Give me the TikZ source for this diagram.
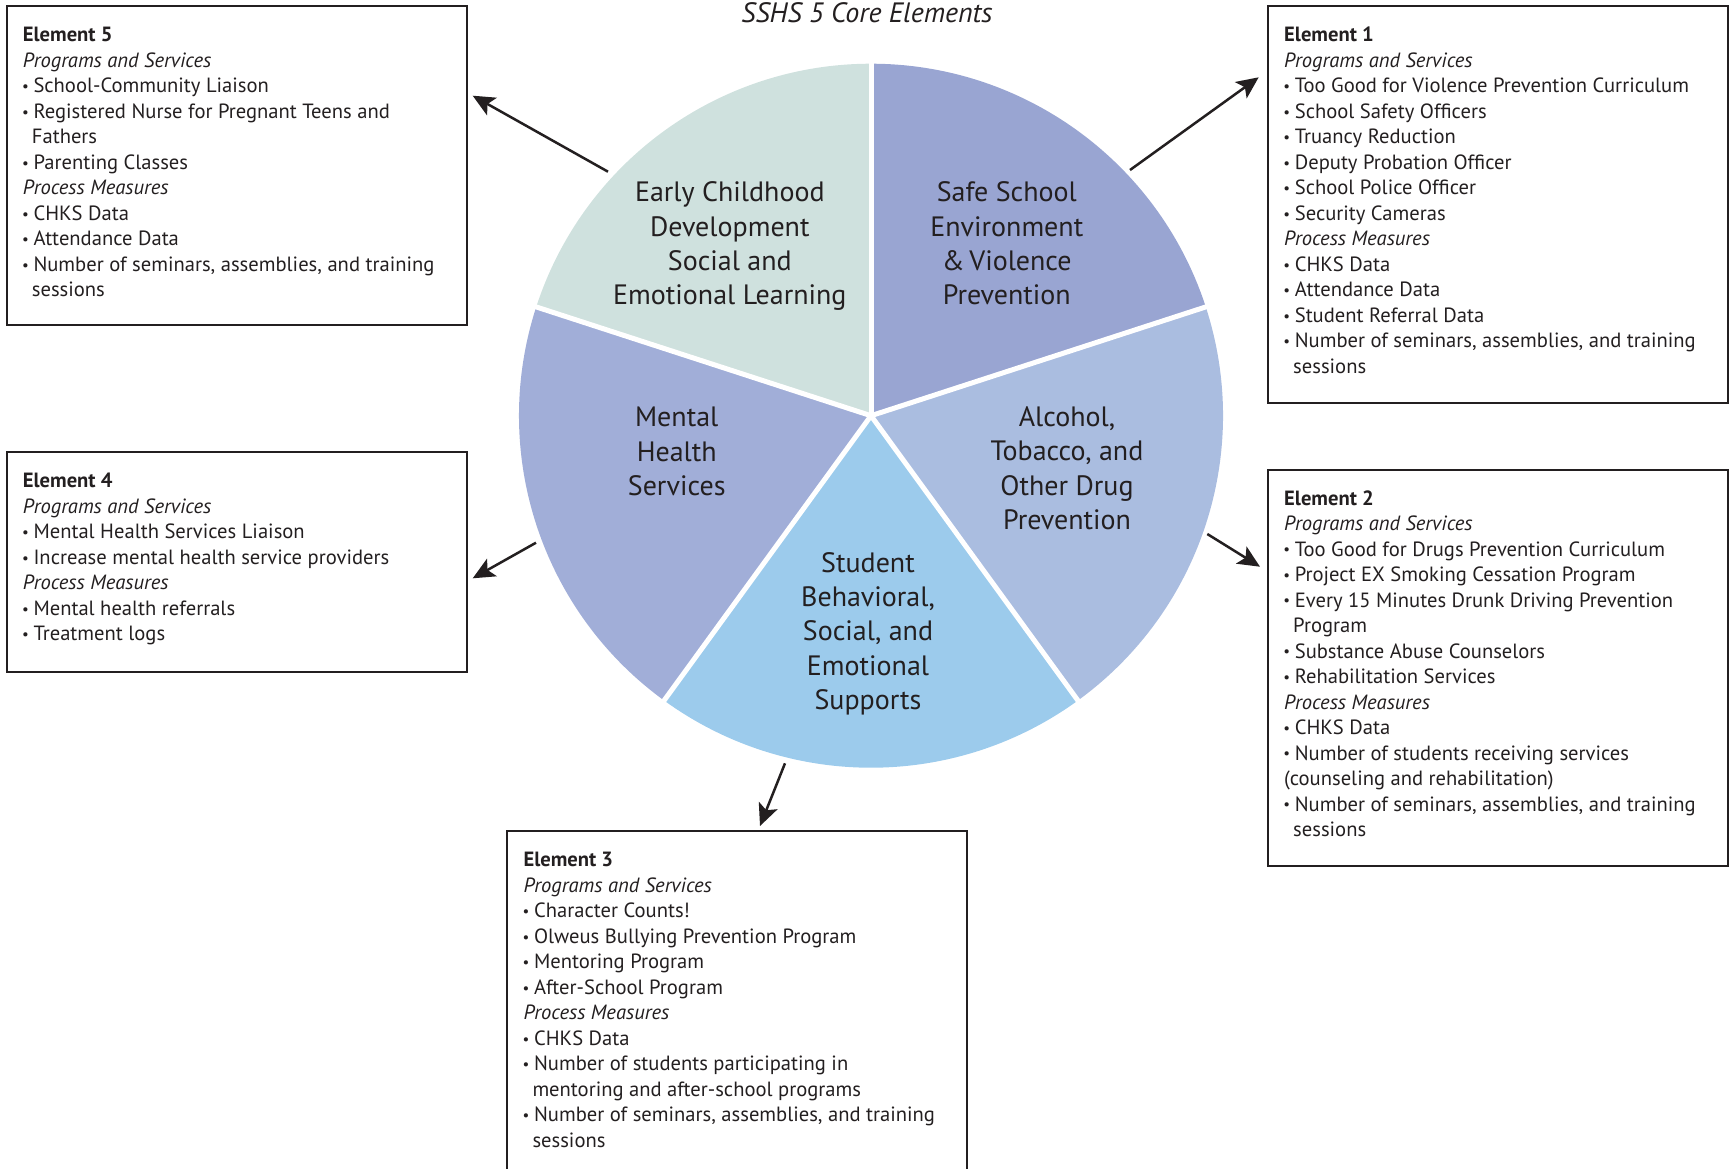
\documentclass[tikz,border=0pt]{standalone}
\usepackage{fontspec}
\setmainfont{PT Sans}
\usetikzlibrary{arrows.meta,calc}
\definecolor{ink}{HTML}{231F20}
\definecolor{cEarly}{HTML}{CFE1DE}
\definecolor{cSafe}{HTML}{99A5D2}
\definecolor{cAlc}{HTML}{AABDE0}
\definecolor{cStud}{HTML}{9CCBEC}
\definecolor{cMent}{HTML}{A1AED8}
\newcommand{\bl}{\makebox[10.6pt][l]{\kern-0.8pt\raisebox{1.2pt}{\fontsize{15}{15}\selectfont\textbullet}}}
\newcommand{\cont}{\hspace*{9pt}}
\begin{document}
\begin{tikzpicture}[x=1pt,y=-1pt,
  frame/.style={draw=ink,line width=2.4pt,anchor=north west,inner sep=0pt},
  boxtext/.style={anchor=base west,align=left,inner sep=0pt,text=ink,font=\fontsize{20.6}{25.5}\selectfont},
  pietext/.style={anchor=base,align=center,text=ink,inner sep=0pt,font=\fontsize{28}{34.3}\selectfont},
  link/.style={draw=ink,line width=2.5pt,-{Stealth[length=22pt,width=20pt,inset=5pt]}}]
\useasboundingbox (0,0) rectangle (1729,1168);

% title
\node[anchor=base,text=ink,inner sep=0pt,font=\fontsize{28}{32}\selectfont\itshape] (title) at (867,22.7) {SSHS 5 Core Elements};

% pie
\begin{scope}[shift={(871,415.7)},y=1pt]
  \fill[cSafe]  (0,0) -- (18:352)  arc[start angle=18, end angle=90, radius=352] -- cycle;
  \fill[cEarly] (0,0) -- (90:352)  arc[start angle=90, end angle=162, radius=352] -- cycle;
  \fill[cMent]  (0,0) -- (162:352) arc[start angle=162,end angle=234, radius=352] -- cycle;
  \fill[cStud]  (0,0) -- (234:352) arc[start angle=234,end angle=306, radius=352] -- cycle;
  \fill[cAlc]   (0,0) -- (306:352) arc[start angle=306,end angle=378, radius=352] -- cycle;
  \foreach \a in {18,90,162,234,306} \draw[white,line width=5pt] (0,0) -- (\a:354);
\end{scope}

% pie labels (anchored at the baseline of their last line)
\node[pietext] (early) at (729.8,304.6) {Early Childhood\\Development\\Social and\\Emotional Learning};
\node[pietext] (safe) at (1006.8,304.6) {Safe School\\Environment\\\&\,Violence\\Prevention};
\node[pietext] (mental) at (676.7,495.3) {Mental\\Health\\Services};
\node[pietext] (alc) at (1067,529.3) {Alcohol,\\Tobacco, and\\Other Drug\\Prevention};
\node[pietext] (stud) at (868,709.5) {Student\\Behavioral,\\Social, and\\Emotional\\Supports};

% boxes (text anchored at the baseline of the last line)
\node[frame,minimum width=460,minimum height=319] (b5) at (6,5) {};
\node[boxtext] (t5) at (22.7,296.7) {\textbf{Element 5}\\
\textit{Programs and Services}\\
\bl School-Community Liaison\\
\bl Registered Nurse for Pregnant Teens and\\
\cont Fathers\\
\bl Parenting Classes\\
\textit{Process Measures}\\
\bl CHKS Data\\
\bl Attendance Data\\
\bl Number of seminars, assemblies, and training\\
\cont sessions};

\node[frame,minimum width=460,minimum height=397] (b1) at (1267,5) {};
\node[boxtext] (t1) at (1284,373.2) {\textbf{Element 1}\\
\textit{Programs and Services}\\
\bl Too Good for Violence Prevention Curriculum\\
\bl School Safety Officers\\
\bl Truancy Reduction\\
\bl Deputy Probation Officer\\
\bl School Police Officer\\
\bl Security Cameras\\
\textit{Process Measures}\\
\bl CHKS Data\\
\bl Attendance Data\\
\bl Student Referral Data\\
\bl Number of seminars, assemblies, and training\\
\cont sessions};

\node[frame,minimum width=460,minimum height=220] (b4) at (6,451) {};
\node[boxtext] (t4) at (22.7,640.7) {\textbf{Element 4}\\
\textit{Programs and Services}\\
\bl Mental Health Services Liaison\\
\bl Increase mental health service providers\\
\textit{Process Measures}\\
\bl Mental health referrals\\
\bl Treatment logs};

\node[frame,minimum width=460,minimum height=396] (b2) at (1267,469) {};
\node[boxtext] (t2) at (1284,836.5) {\textbf{Element 2}\\
\textit{Programs and Services}\\
\bl Too Good for Drugs Prevention Curriculum\\
\bl Project EX Smoking Cessation Program\\
\bl Every 15 Minutes Drunk Driving Prevention\\
\cont Program\\
\bl Substance Abuse Counselors\\
\bl Rehabilitation Services\\
\textit{Process Measures}\\
\bl CHKS Data\\
\bl Number of students receiving services\\
(counseling and rehabilitation)\\
\bl Number of seminars, assemblies, and training\\
\cont sessions};

\node[frame,minimum width=460,minimum height=360] (b3) at (506,830) {};
\node[boxtext] (t3) at (523.3,1147.2) {\textbf{Element 3}\\
\textit{Programs and Services}\\
\bl Character Counts!\\
\bl Olweus Bullying Prevention Program\\
\bl Mentoring Program\\
\bl After-School Program\\
\textit{Process Measures}\\
\bl CHKS Data\\
\bl Number of students participating in\\
\cont mentoring and after-school programs\\
\bl Number of seminars, assemblies, and training\\
\cont sessions};

% connectors
\coordinate (p5) at (608,171.7);   \coordinate (e5) at (472.7,95.7);
\coordinate (p1) at (1130,170);    \coordinate (e1) at (1258.7,77.3);
\coordinate (p4) at (536,542.7);   \coordinate (e4) at (472.7,578.3);
\coordinate (p2) at (1207.3,534);  \coordinate (e2) at (1260,566.7);
\coordinate (p3) at (785,763.3);   \coordinate (e3) at (760,826);
\draw[link] (p5) -- (e5);
\draw[link] (p1) -- (e1);
\draw[link] (p4) -- (e4);
\draw[link] (p2) -- (e2);
\draw[link] (p3) -- (e3);
\end{tikzpicture}
\end{document}
